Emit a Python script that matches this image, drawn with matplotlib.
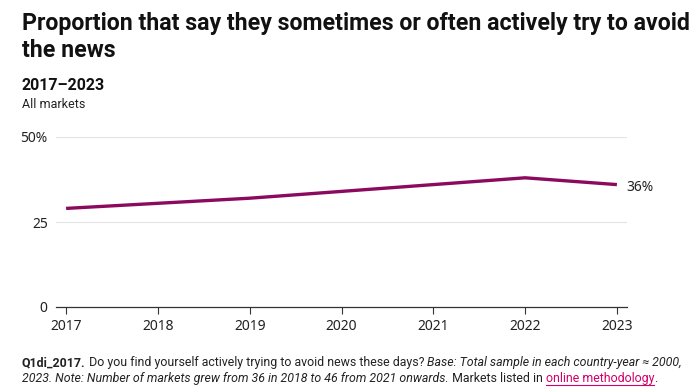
import matplotlib
matplotlib.use('Agg')
import matplotlib.pyplot as plt

# данные
years = [2017, 2019, 2022, 2023]
avoid = [29, 32, 38, 36]
x_ticks = [2017, 2018, 2019, 2020, 2021, 2022, 2023]
y_ticks = [0, 25, 50]
y_labels = ['0', '25', '50%']

plt.rcParams['font.family'] = ['Roboto', 'DejaVu Sans']
line_color = '#8c0a5e'

fig = plt.figure(figsize=(6.99, 3.91), dpi=100)
W, H = 699, 391
ax = fig.add_axes([56 / W, 1 - 307 / H, (627 - 56) / W, (307 - 137) / H])
renderer = fig.canvas.get_renderer()

ax.plot(years, avoid, color=line_color, linewidth=2.4, solid_capstyle='butt', zorder=3)
ax.text(years[-1] + 0.1, avoid[-1] - 0.8, f'{avoid[-1]}%', fontsize=10,
        va='center', ha='left', color='#222222', family='Noto Sans')

ax.set_xlim(2016.89, 2023.11)
ax.set_ylim(0, 50)
ax.set_xticks(x_ticks)
ax.set_xticklabels([str(y) for y in x_ticks], fontsize=10, family='Noto Sans', color='#222222')
ax.set_yticks(y_ticks)
ax.set_yticklabels(y_labels, fontsize=10, family='Noto Sans', color='#222222')
ax.tick_params(axis='x', length=5, width=0.8, color='#333333', pad=4)
ax.tick_params(axis='y', length=0, pad=6)
for s in ['top', 'right', 'left']:
    ax.spines[s].set_visible(False)
ax.spines['bottom'].set_color('#333333')
ax.spines['bottom'].set_linewidth(0.9)
for v in y_ticks[1:]:
    ax.axhline(v, color='#e3e3e3', linewidth=0.8, zorder=1)

# заголовок: подгоняем размер под ширину 668 px
t1 = fig.text(22 / W, 1 - 30 / H, 'Proportion that say they sometimes or often actively try to avoid',
              fontsize=16, fontweight='bold', va='baseline', ha='left', color='#111111')
w = t1.get_window_extent(renderer).width
title_size = 16 * 668 / w
t1.set_fontsize(title_size)
fig.text(22 / W, 1 - 57 / H, 'the news', fontsize=title_size, fontweight='bold',
         va='baseline', ha='left', color='#111111')
fig.text(22 / W, 1 - 90 / H, '2017–2023', fontsize=11.5, fontweight='bold',
         va='baseline', ha='left', color='#111111')
fig.text(22 / W, 1 - 108 / H, 'All markets', fontsize=9, va='baseline', ha='left', color='#222222')

# подпись снизу из кусков с разным стилем
def write_line(parts, y, size, draw=True):
    x = 22
    for txt, style in parts:
        kw = dict(fontsize=size, va='baseline', ha='left', color='#222222')
        if style == 'b':
            kw['fontweight'] = 'bold'
        elif style == 'i':
            kw['fontstyle'] = 'italic'
        elif style == 'link':
            kw['color'] = '#d1006b'
        t = fig.text(x / W, 1 - y / H, txt, **kw)
        bb = t.get_window_extent(renderer)
        if not draw:
            t.remove()
        elif style == 'link':
            fig.add_artist(plt.Line2D([bb.x0 / W, bb.x1 / W], [1 - (y + 2.5) / H] * 2,
                                      color='#d1006b', linewidth=0.8))
        x = bb.x1
    return x

line1 = [('Q1di_2017.', 'b'), (' Do you find yourself actively trying to avoid news these days? ', 'r'),
         ('Base: Total sample in each country-year ≈ 2000,', 'i')]
line2 = [('2023. Note: Number of markets grew from 36 in 2018 to 46 from 2021 onwards.', 'i'),
         (' Markets listed in ', 'r'), ('online methodology', 'link'), ('.', 'r')]
end1 = write_line(line1, 366, 9, draw=False)
end2 = write_line(line2, 382, 9, draw=False)
# среднее между подгонкой первой и второй строки
note_size = 0.5 * (9 * (690 - 22) / (end1 - 22) + 9 * (652 - 22) / (end2 - 22))
write_line(line1, 366, note_size)
write_line(line2, 382, note_size)

fig.savefig('out.png', dpi=100)
